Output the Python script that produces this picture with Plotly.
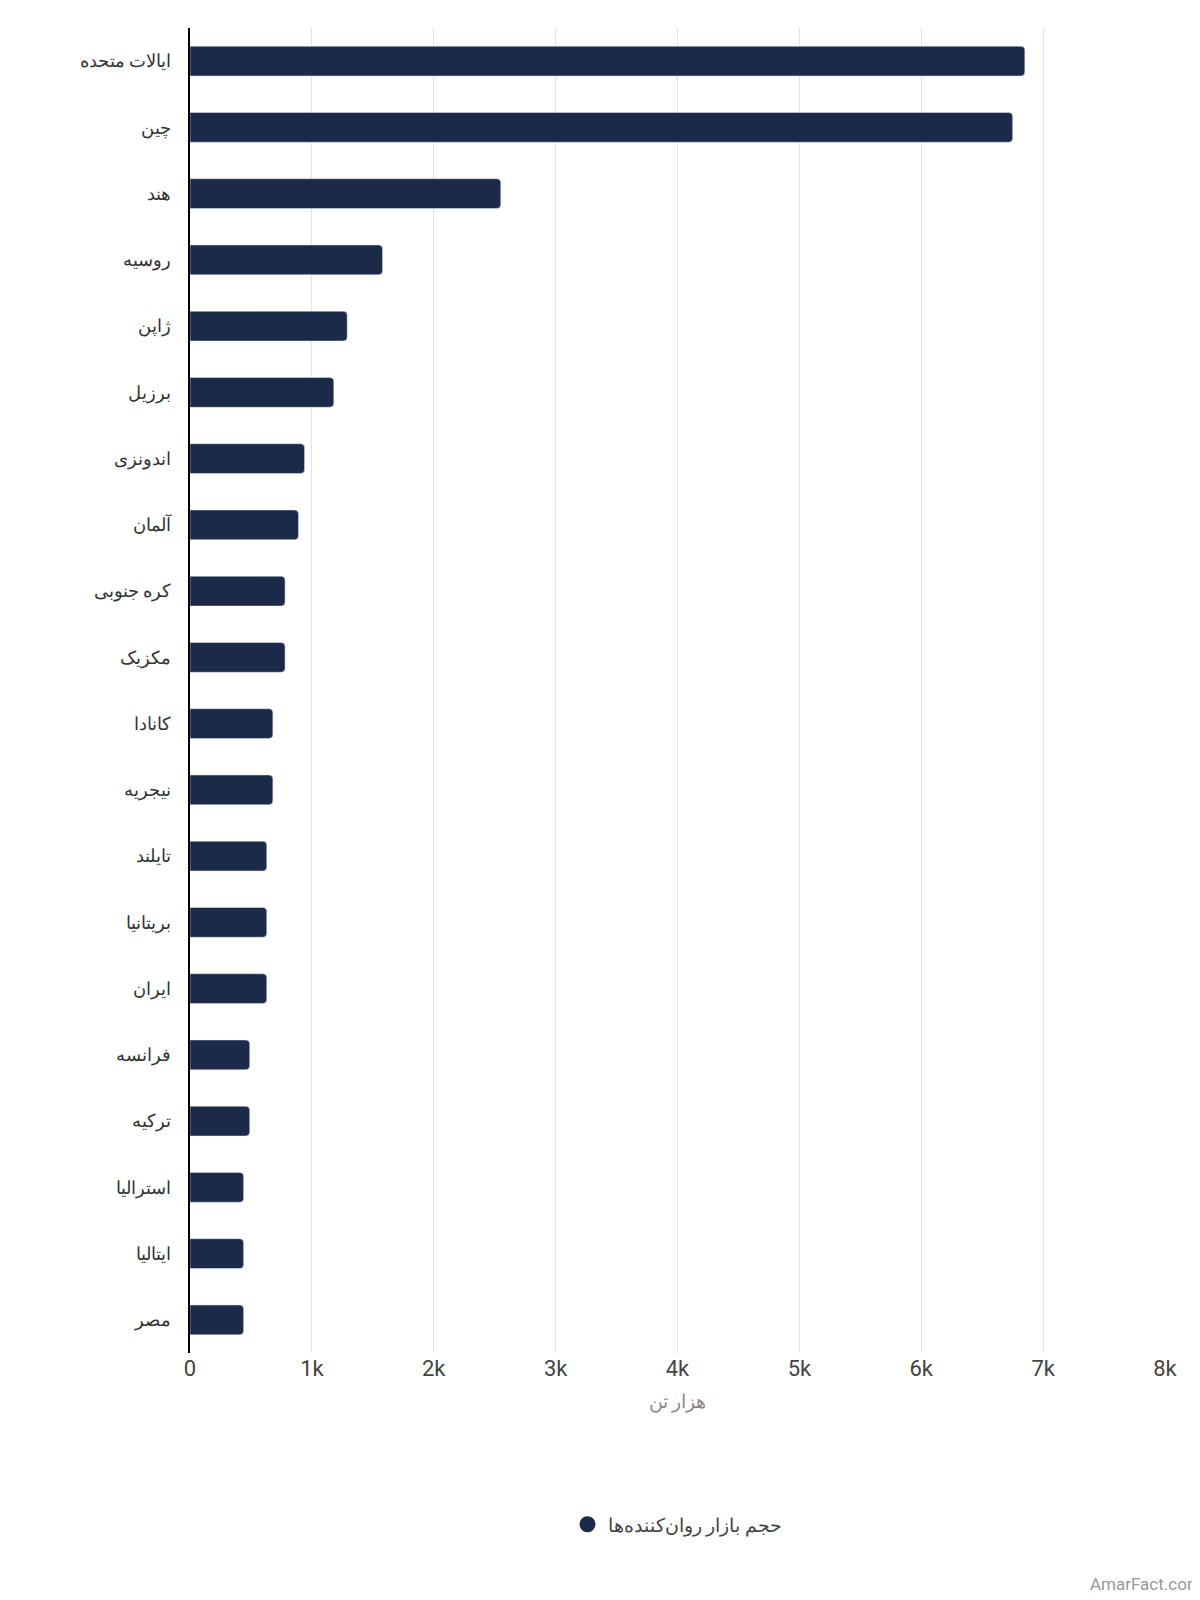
import plotly.graph_objects as go

countries = ["ایالات متحده","چین","هند","روسیه","ژاپن","برزیل","اندونزی","آلمان","کره جنوبی","مکزیک",
             "کانادا","نیجریه","تایلند","بریتانیا","ایران","فرانسه","ترکیه","استرالیا","ایتالیا","مصر"]
values = [6850,6750,2550,1580,1290,1180,940,890,780,780,680,680,630,630,630,490,490,440,440,440]
xticks = [0,1000,2000,3000,4000,5000,6000,7000,8000]
xticklabels = ["0","1k","2k","3k","4k","5k","6k","7k","8k"]
color = "#1c2a4a"

fig = go.Figure()
fig.add_trace(go.Bar(x=values, y=countries, orientation="h", marker=dict(color=color, cornerradius=4),
                     showlegend=False))
fig.add_trace(go.Scatter(x=[None], y=[None], mode="markers", name="حجم بازار روان‌کننده‌ها",
                         marker=dict(color=color, size=22, symbol="circle")))
fig.update_layout(
    width=1200, height=1600, plot_bgcolor="white", paper_bgcolor="white",
    margin=dict(l=182, r=43, t=20, b=255), bargap=0.55,
    font=dict(family="Roboto, Noto Sans", color="#444"),
    legend=dict(orientation="h", x=0.5, xanchor="center", y=-0.115, yanchor="top", font=dict(size=19)),
    xaxis=dict(range=[0,8000], tickvals=xticks, ticktext=xticklabels, showgrid=True, gridcolor="#e3e3e3",
               tickfont=dict(size=22, color="#444"), zeroline=False, ticks="", ticklen=14, tickcolor="white",
               title=dict(text="هزار تن", font=dict(size=19, color="#888"), standoff=14)),
    yaxis=dict(autorange="reversed", showline=True, linecolor="black", linewidth=2, ticks="",
               tickfont=dict(size=18, color="#333"), ticksuffix="   "),
    annotations=[dict(text="AmarFact.com", xref="paper", yref="paper", x=1.04, y=-0.165, xanchor="right",
                      yanchor="top", showarrow=False, font=dict(size=17, color="#999"))],
)
fig.write_html("out.html")
